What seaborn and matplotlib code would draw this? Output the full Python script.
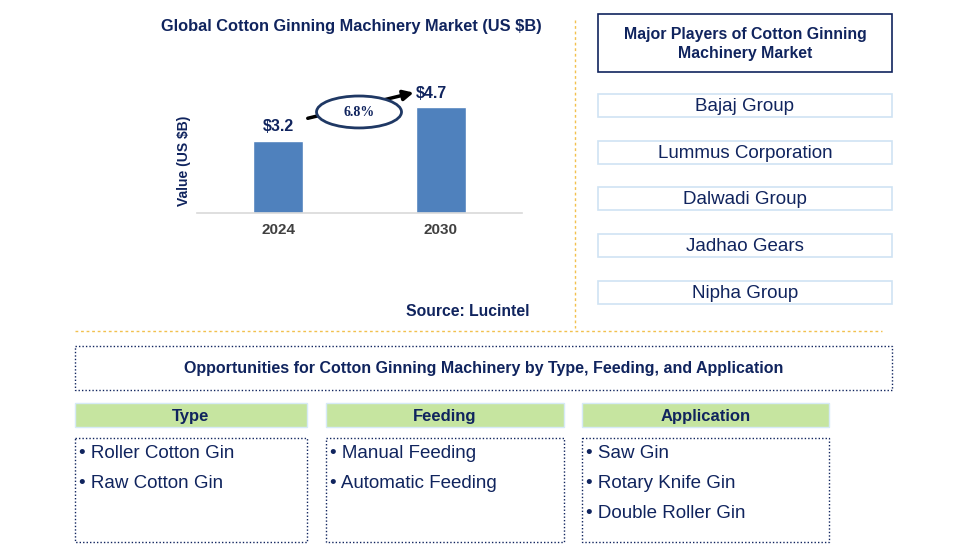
import seaborn as sns
from matplotlib import pyplot as plt
from matplotlib.patches import Rectangle, Ellipse

years = ["2024", "2030"]
values = [3.2, 4.7]
cagr = "6.8%"
players = ["Bajaj Group", "Lummus Corporation", "Dalwadi Group", "Jadhao Gears", "Nipha Group"]
seg_titles = ["Type", "Feeding", "Application"]
seg_items = [
    ["Roller Cotton Gin", "Raw Cotton Gin"],
    ["Manual Feeding", "Automatic Feeding"],
    ["Saw Gin", "Rotary Knife Gin", "Double Roller Gin"],
]

NAVY = "#10245E"
BAR = "#4F81BD"
GOLD = "#F2C14E"
W, H = 958, 560

sns.set_style("white")
plt.rcParams['font.family'] = ['Liberation Sans', 'DejaVu Sans']

fig = plt.figure(figsize=(W / 100, H / 100), dpi=100)

# overlay in pixel coords (origin top-left)
ov = fig.add_axes([0, 0, 1, 1])
ov.set_xlim(0, W)
ov.set_ylim(H, 0)
ov.axis("off")

# bar chart axes
def px_axes(x0, y0, x1, y1):
    return fig.add_axes([x0 / W, 1 - y1 / H, (x1 - x0) / W, (y1 - y0) / H])

ax = px_axes(197, 78, 522, 213)
ax.set_facecolor("none")
sns.barplot(x=years, y=values, color=BAR, width=0.31, saturation=1, ax=ax)
ax.set_xlim(-0.5, 1.5)
ax.set_ylim(0, 6)
ax.set_yticks([])
ax.set_xlabel("")
ax.set_ylabel("Value (US $B)", color=NAVY, fontsize=10, fontweight="bold")
ax.yaxis.set_label_coords(-0.017, 0.39)
for s in ["top", "right", "left"]:
    ax.spines[s].set_visible(False)
ax.spines["bottom"].set_color("#D9D9D9")
ax.spines["bottom"].set_linewidth(1.2)
ax.tick_params(axis="x", length=0, pad=7, labelsize=11, labelcolor="#404040")
for lab in ax.get_xticklabels():
    lab.set_fontweight("bold")
for i, v in enumerate(values):
    ax.text(i - 0.06 * i, v + 0.3, f"${v}", ha="center", va="bottom", fontsize=11.5,
            fontweight="bold", color=NAVY)

# growth arrow and CAGR ellipse
ax.annotate("", xy=(0.85, 5.38), xytext=(0.165, 4.18),
            arrowprops=dict(arrowstyle="-|>", color="black", lw=2.5, mutation_scale=15),
            annotation_clip=False)
ax.add_patch(Ellipse((0.497, 4.49), 0.523, 1.42, facecolor="white", edgecolor="#1F3864",
                     lw=2, clip_on=False, zorder=5))
ax.text(0.497, 4.45, cagr, ha="center", va="center", fontsize=10, fontweight="bold",
        color=NAVY, family="Liberation Serif", zorder=6)

ov.text(351, 27, "Global Cotton Ginning Machinery Market (US $B)", ha="center", va="center",
        fontsize=11.8, fontweight="bold", color=NAVY)
ov.text(530, 311, "Source: Lucintel", ha="right", va="center", fontsize=11.3,
        fontweight="bold", color=NAVY)

# separators
ov.plot([575, 575], [20, 328], color=GOLD, lw=1, ls=(0, (2, 2)))
ov.plot([75, 882], [331, 331], color=GOLD, lw=1, ls=(0, (2, 2)))

# major players
ov.add_patch(Rectangle((598, 14), 294, 58, fill=False, edgecolor=NAVY, lw=1.2))
ov.text(745, 44, "Major Players of Cotton Ginning\nMachinery Market", ha="center", va="center",
        fontsize=11.4, fontweight="bold", color=NAVY, linespacing=1.3)
player_y = [105, 152, 198, 245, 292]
for name, yc in zip(players, player_y):
    ov.add_patch(Rectangle((598, yc - 11.5), 294, 23, fill=False, edgecolor="#CFE3F3", lw=1.2))
    ov.text(745, yc + 1.5, name, ha="center", va="center", fontsize=13.5, color=NAVY)

# opportunities
ov.add_patch(Rectangle((75, 346), 817, 44, fill=False, edgecolor=NAVY, lw=1, ls=(0, (1, 1.5))))
ov.text(484, 369, "Opportunities for Cotton Ginning Machinery by Type, Feeding, and Application",
        ha="center", va="center", fontsize=11.5, fontweight="bold", color=NAVY)

cols = [(75, 307), (326, 564), (582, 829)]
for (x0, x1), title, items in zip(cols, seg_titles, seg_items):
    ov.add_patch(Rectangle((x0, 403), x1 - x0, 24, facecolor="#C6E5A0", edgecolor="#D6EAF7", lw=1))
    ov.text((x0 + x1) / 2, 416, title, ha="center", va="center", fontsize=12,
            fontweight="bold", color=NAVY)
    ov.add_patch(Rectangle((x0, 438), x1 - x0, 104, fill=False, edgecolor=NAVY, lw=1,
                           ls=(0, (1, 1.5))))
    for k, it in enumerate(items):
        ov.text(x0 + 4, 454 + 30 * k, "\u2022 " + it, ha="left", va="center", fontsize=13.5,
                color=NAVY)

plt.savefig("out.png", dpi=100)
